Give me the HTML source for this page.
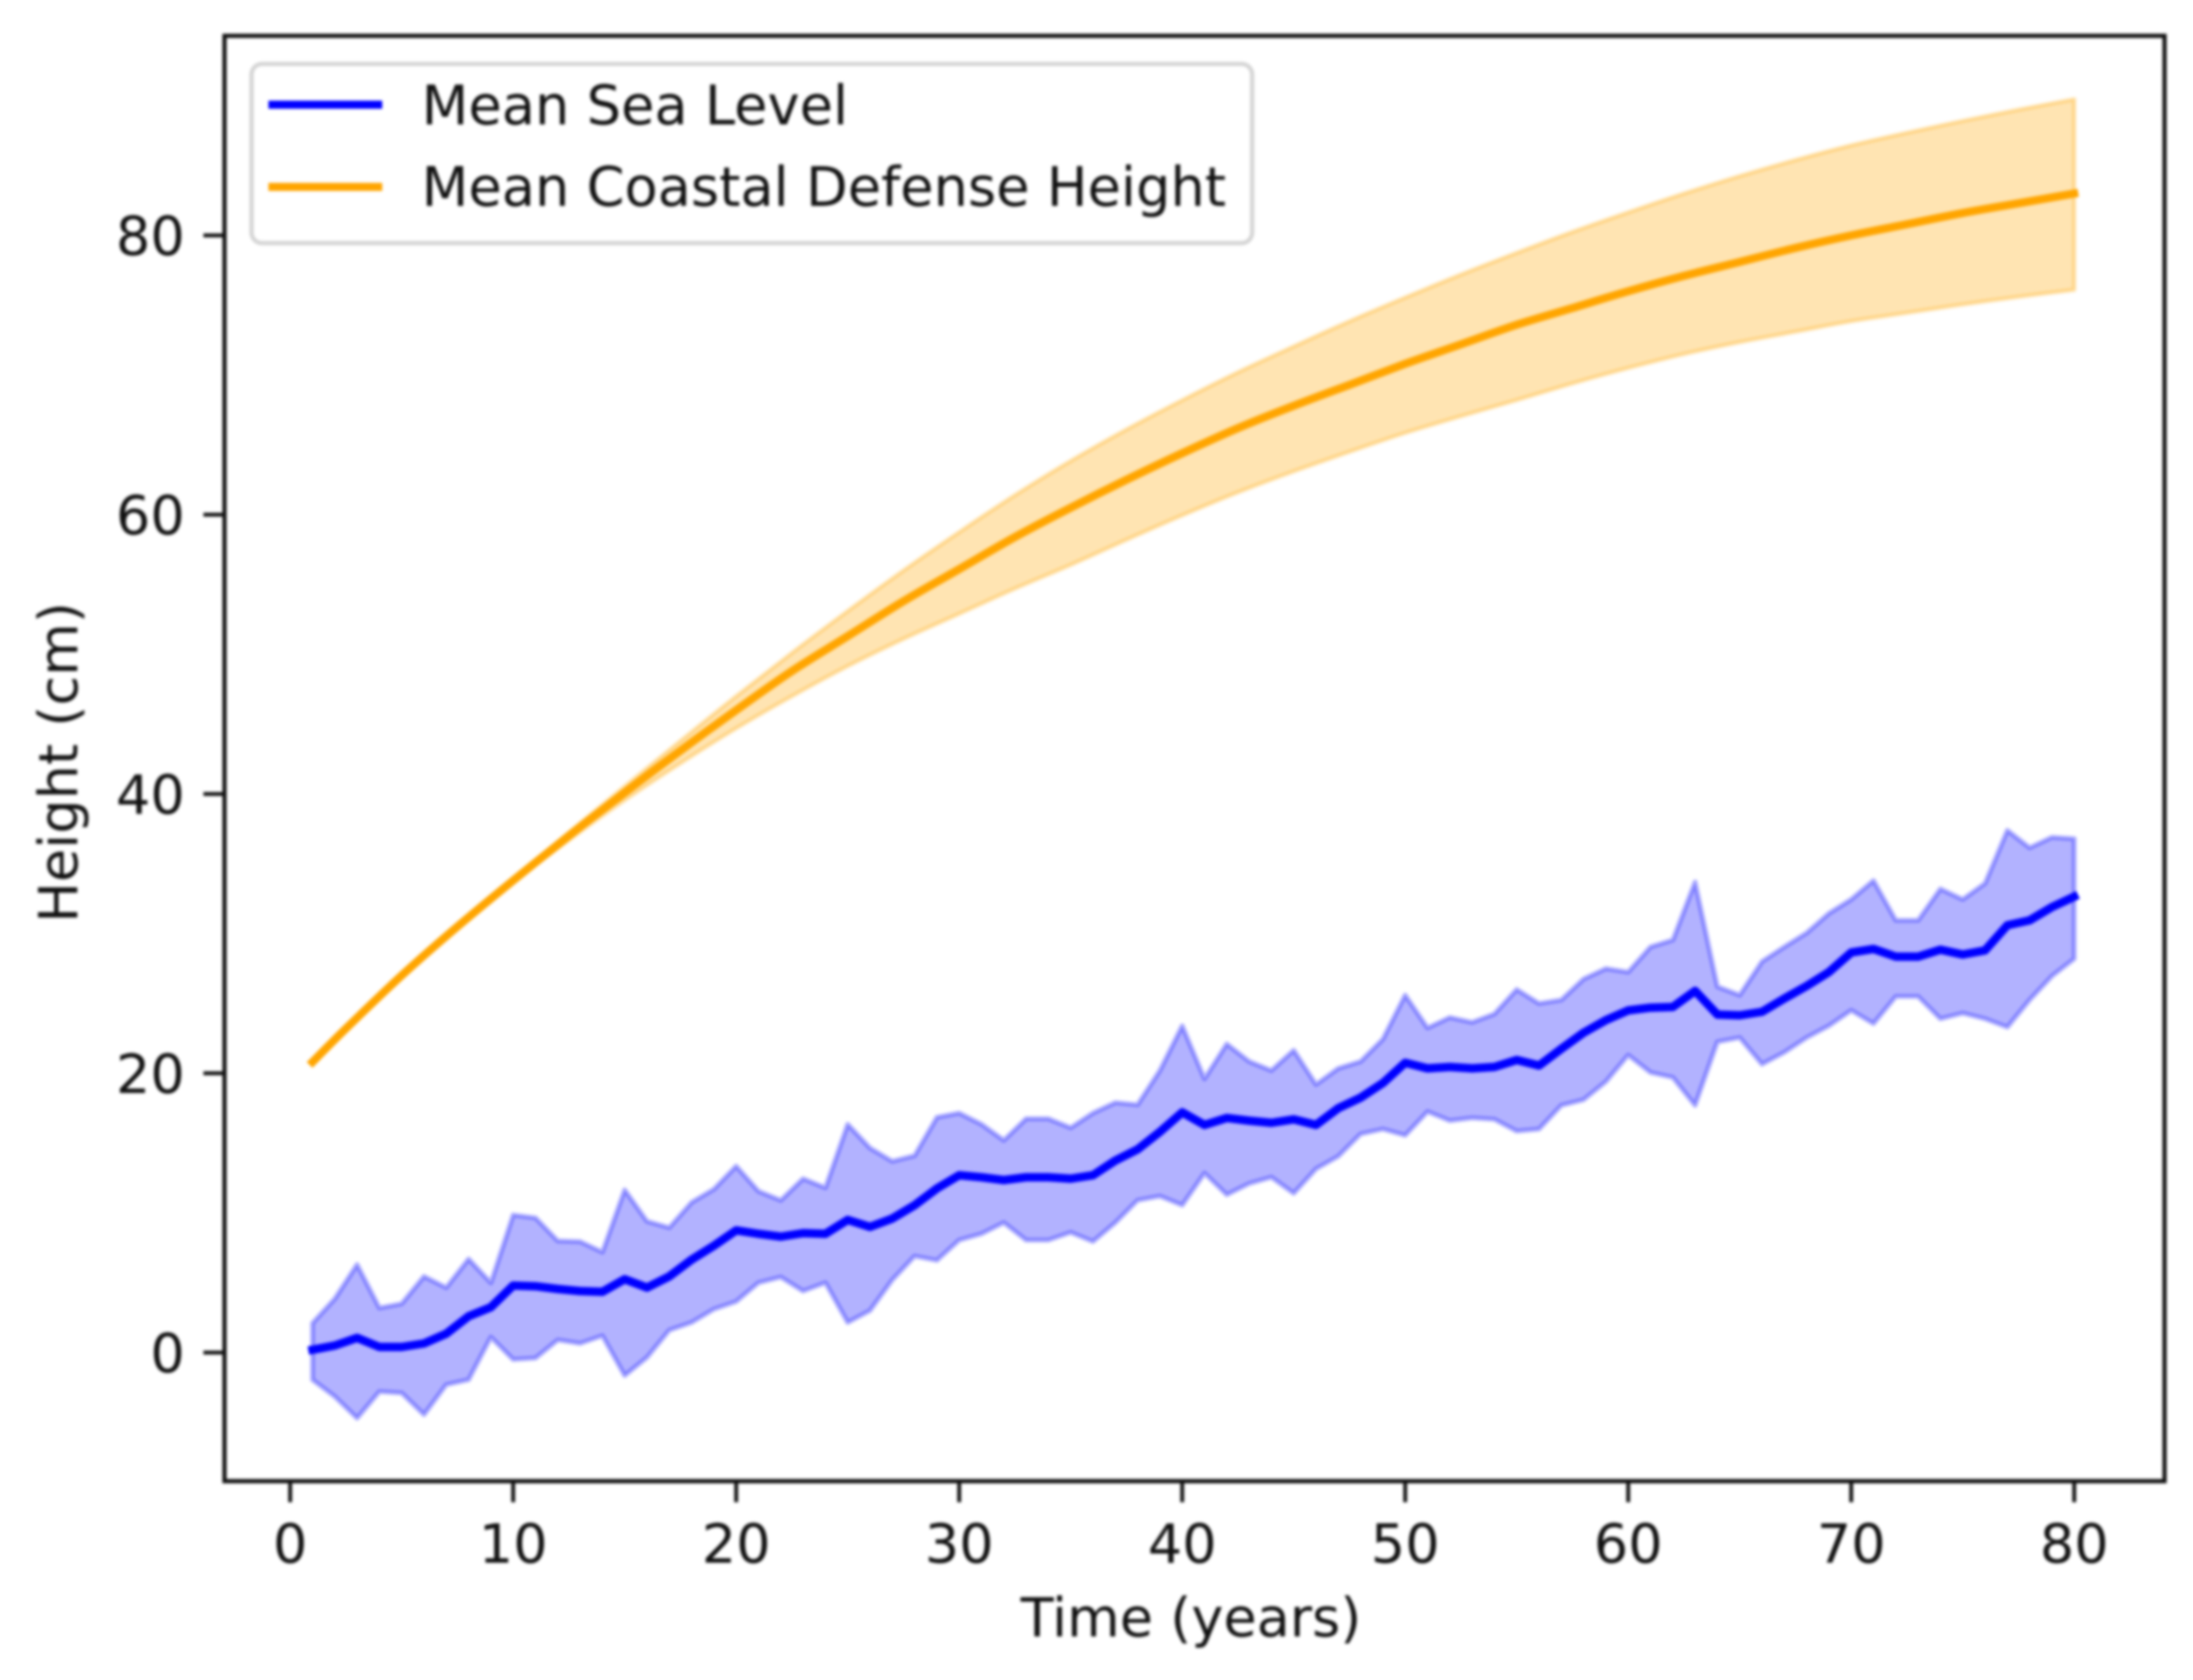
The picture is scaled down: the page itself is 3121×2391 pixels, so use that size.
<!DOCTYPE html>
<html lang="en">
<head>
<meta charset="utf-8">
<title>Mean Sea Level and Coastal Defense Height</title>
<style>
html,body{margin:0;padding:0;background:#fff;width:3121px;height:2391px;overflow:hidden}
svg{display:block;filter:blur(2px)}
text{font-family:"DejaVu Sans","Liberation Sans",sans-serif;fill:#111}
</style>
</head>
<body>
<svg id="chart" xmlns="http://www.w3.org/2000/svg" width="3121" height="2391" viewBox="0 0 3121 2391">
  <rect x="0" y="0" width="3121" height="2391" fill="#fff"/>
  <g id="orange-layer"></g>
  <g id="blue-layer"></g>
  <g id="axes-layer"></g>
  <text x="1695" y="2329" font-size="77" text-anchor="middle">Time (years)</text>
  <text transform="translate(110,1085) rotate(-90)" font-size="77" text-anchor="middle">Height (cm)</text>
  <g>
    <rect x="358" y="91" width="1424" height="255" rx="15" ry="15" fill="#fff" fill-opacity="0.8" stroke="#d4d4d4" stroke-width="6"/>
    <line x1="382" y1="149" x2="544" y2="149" stroke="#0000ff" stroke-width="11.5"/>
    <text x="600" y="177" font-size="77.2">Mean Sea Level</text>
    <line x1="382" y1="266" x2="544" y2="266" stroke="#ffa500" stroke-width="11.5"/>
    <text x="600" y="293" font-size="77.2">Mean Coastal Defense Height</text>
  </g>
</svg>
<script>
var seaYears = [1,2,3,4,5,6,7,8,9,10,11,12,13,14,15,16,17,18,19,20,21,22,23,24,25,26,27,28,29,30,31,32,33,34,35,36,37,38,39,40,41,42,43,44,45,46,47,48,49,50,51,52,53,54,55,56,57,58,59,60,61,62,63,64,65,66,67,68,69,70,71,72,73,74,75,76,77,78,79,80];
var seaMean = [0.2,0.5,1.05,0.4,0.4,0.65,1.35,2.6,3.25,4.8,4.75,4.55,4.4,4.35,5.25,4.65,5.45,6.65,7.65,8.75,8.5,8.3,8.55,8.5,9.5,9.0,9.6,10.55,11.75,12.7,12.55,12.35,12.55,12.55,12.45,12.7,13.75,14.55,15.8,17.2,16.3,16.8,16.6,16.45,16.7,16.3,17.5,18.25,19.3,20.75,20.35,20.45,20.35,20.45,20.95,20.55,21.75,22.9,23.8,24.5,24.7,24.75,25.9,24.2,24.15,24.4,25.35,26.25,27.25,28.65,28.9,28.35,28.35,28.85,28.5,28.8,30.6,30.95,31.9,32.65];
var seaUpper = [2.1,3.85,6.3,3.2,3.5,5.45,4.65,6.7,5.0,9.85,9.65,8.0,7.95,7.2,11.65,9.4,8.95,10.75,11.7,13.35,11.55,10.9,12.45,11.8,16.35,14.65,13.7,14.1,16.85,17.15,16.35,15.2,16.75,16.75,16.1,17.15,17.9,17.75,20.2,23.4,19.6,22.1,20.85,20.2,21.65,19.2,20.35,20.85,22.45,25.6,23.25,24.0,23.65,24.25,26.0,25.0,25.25,26.75,27.5,27.25,29.05,29.55,33.7,26.2,25.6,28.0,29.05,30.05,31.45,32.45,33.8,30.95,30.95,33.2,32.45,33.6,37.4,36.15,36.9,36.8];
var seaLower = [-1.95,-3.15,-4.7,-2.8,-2.9,-4.45,-2.3,-1.95,1.1,-0.5,-0.4,0.9,0.65,1.2,-1.65,-0.35,1.6,2.15,3.1,3.65,5.0,5.4,4.4,5.0,2.15,3.0,5.2,6.9,6.6,8.05,8.5,9.3,8.05,8.05,8.6,7.95,9.3,10.9,11.2,10.55,12.85,11.3,12.1,12.55,11.4,13.15,14.05,15.65,16.0,15.55,17.25,16.6,16.8,16.7,15.85,16.0,17.7,18.1,19.4,21.3,20.05,19.7,17.7,22.25,22.55,20.65,21.5,22.55,23.4,24.5,23.55,25.5,25.5,23.9,24.3,23.9,23.3,25.25,26.95,28.2];
var defenseYears = [1,2.5,5,7.5,10,12.5,15,17.5,20,22.5,25,27.5,30,32.5,35,37.5,40,42.5,45,47.5,50,52.5,55,57.5,60,62.5,65,67.5,70,72.5,75,77.5,80];
var defenseMean = [20.8,23.2,27.0,30.5,33.8,37.0,40.1,43.1,46.0,48.8,51.3,53.8,56.1,58.4,60.5,62.5,64.4,66.2,67.8,69.3,70.8,72.2,73.6,74.8,76.0,77.1,78.1,79.1,80.0,80.8,81.6,82.3,83.0];
var defenseUpper = [20.8,23.2,27.0,30.55,33.9,37.25,40.55,43.8,47.0,50.1,53.1,56.0,58.75,61.4,63.85,66.1,68.2,70.2,72.05,73.85,75.55,77.2,78.75,80.25,81.65,83.0,84.25,85.4,86.45,87.35,88.2,89.0,89.75];
var defenseLower = [20.8,23.2,27.0,30.45,33.7,36.7,39.55,42.2,44.7,47.0,49.15,51.1,52.9,54.7,56.4,58.2,59.95,61.6,63.1,64.5,65.85,67.05,68.2,69.4,70.5,71.5,72.35,73.1,73.85,74.45,75.05,75.6,76.1];
var xTickValues = [0,10,20,30,40,50,60,70,80];
var yTickValues = [0,20,40,60,80];

var NS = 'http://www.w3.org/2000/svg';
var plotLeft = 319.5, plotRight = 3080.5, plotTop = 51, plotBottom = 2108;
var xDomain = [-2.945, 84.05];
var yDomain = [-9.21, 94.29];
function xScale(v){ return plotLeft + (v - xDomain[0]) / (xDomain[1] - xDomain[0]) * (plotRight - plotLeft); }
function yScale(v){ return plotBottom - (v - yDomain[0]) / (yDomain[1] - yDomain[0]) * (plotBottom - plotTop); }
function svgEl(tag, parent, props){
  var el = document.createElementNS(NS, tag);
  for (var k in props) { el.setAttribute(k, props[k]); }
  parent.appendChild(el);
  return el;
}
function linePoints(xs, ys){
  return xs.map(function(x, i){ return xScale(x).toFixed(1) + ',' + yScale(ys[i]).toFixed(1); });
}
function bandPoints(xs, hi, lo){
  return linePoints(xs, hi).concat(linePoints(xs, lo).reverse()).join(' ');
}
/* smooth curve through the data points (Catmull-Rom to cubic bezier) */
function smoothSegments(pts){
  var d = '';
  for (var i = 0; i < pts.length - 1; i++) {
    var p0 = pts[Math.max(i - 1, 0)], p1 = pts[i], p2 = pts[i + 1], p3 = pts[Math.min(i + 2, pts.length - 1)];
    var c1x = p1[0] + (p2[0] - p0[0]) / 6, c1y = p1[1] + (p2[1] - p0[1]) / 6;
    var c2x = p2[0] - (p3[0] - p1[0]) / 6, c2y = p2[1] - (p3[1] - p1[1]) / 6;
    d += 'C' + c1x.toFixed(1) + ' ' + c1y.toFixed(1) + ' ' + c2x.toFixed(1) + ' ' + c2y.toFixed(1) + ' ' + p2[0].toFixed(1) + ' ' + p2[1].toFixed(1);
  }
  return d;
}
function scaled(xs, ys){
  return xs.map(function(x, i){ return [xScale(x), yScale(ys[i])]; });
}
function smoothLine(xs, ys){
  var pts = scaled(xs, ys);
  return 'M' + pts[0][0].toFixed(1) + ' ' + pts[0][1].toFixed(1) + smoothSegments(pts);
}
function smoothBand(xs, hi, lo){
  var top = scaled(xs, hi), bottom = scaled(xs, lo).reverse();
  return 'M' + top[0][0].toFixed(1) + ' ' + top[0][1].toFixed(1) + smoothSegments(top) +
    'L' + bottom[0][0].toFixed(1) + ' ' + bottom[0][1].toFixed(1) + smoothSegments(bottom) + 'Z';
}

var orangeLayer = document.getElementById('orange-layer');
var defenseBand = svgEl('path', orangeLayer, {d: smoothBand(defenseYears, defenseUpper, defenseLower), fill: '#ffa500', 'fill-opacity': 0.3, stroke: '#ffa500', 'stroke-opacity': 0.3, 'stroke-width': 6, 'stroke-linejoin': 'round'});


var defenseLine = svgEl('path', orangeLayer, {d: smoothLine(defenseYears, defenseMean), fill: 'none', stroke: '#ffa500', 'stroke-width': 11.5, 'stroke-linecap': 'square', 'stroke-linejoin': 'round'});



var blueLayer = document.getElementById('blue-layer');
var seaBand = svgEl('polygon', blueLayer, {points: bandPoints(seaYears, seaUpper, seaLower), fill: '#0000ff', 'fill-opacity': 0.3, stroke: '#0000ff', 'stroke-opacity': 0.3, 'stroke-width': 7, 'stroke-linejoin': 'round'});


var seaLine = svgEl('polyline', blueLayer, {points: linePoints(seaYears, seaMean).join(' '), fill: 'none', stroke: '#0000ff', 'stroke-width': 12, 'stroke-linecap': 'square', 'stroke-linejoin': 'round'});



var axesLayer = document.getElementById('axes-layer');
xTickValues.forEach(function(v){
  var px = xScale(v);
  var tick = svgEl('line', axesLayer, {x1: px, x2: px, y1: plotBottom, y2: plotBottom + 30, stroke: '#111', 'stroke-width': 5.5});
  
  
  var label = svgEl('text', axesLayer, {x: px, y: 2224, 'font-size': 77, 'text-anchor': 'middle'});
  
  
  label.textContent = String(v);
});
yTickValues.forEach(function(v){
  var py = yScale(v);
  var tick = svgEl('line', axesLayer, {x1: plotLeft - 30, x2: plotLeft, y1: py, y2: py, stroke: '#111', 'stroke-width': 5.5});
  
  
  var label = svgEl('text', axesLayer, {x: 263, y: py + 28, 'font-size': 77, 'text-anchor': 'end'});
  
  
  label.textContent = String(v);
});
var frame = svgEl('rect', axesLayer, {x: plotLeft, y: plotTop, width: plotRight - plotLeft, height: plotBottom - plotTop, fill: 'none', stroke: '#111', 'stroke-width': 6});


</script>
</body>
</html>
